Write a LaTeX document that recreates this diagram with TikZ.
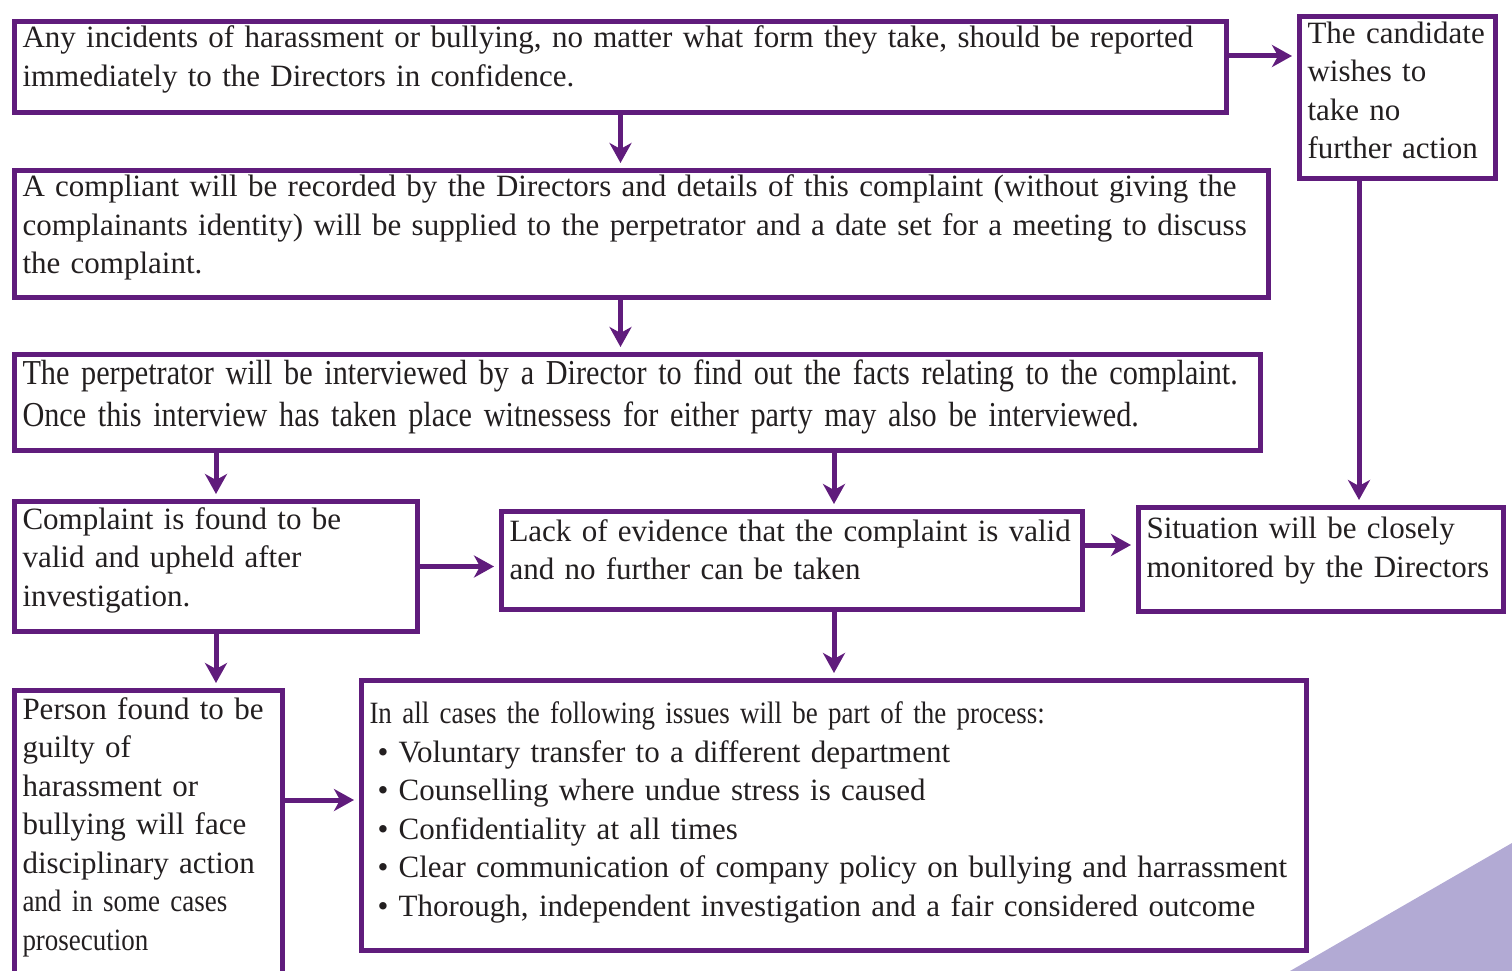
\documentclass[tikz,border=0pt]{standalone}
\usepackage{fontspec}
\setmainfont{Liberation Serif}
\newfontfamily\condfont[FakeStretch=0.87]{Liberation Serif}
\newfontfamily\tallfont[FakeStretch=0.864]{Liberation Serif}
\usetikzlibrary{positioning}
\usetikzlibrary{arrows.meta}
\definecolor{framepurple}{RGB}{96,28,124}
\definecolor{inktext}{RGB}{35,31,32}
\definecolor{lavender}{RGB}{178,170,212}
\tikzset{
    stepbox/.style = {rectangle, draw=framepurple, line width=5pt, anchor=north west, align=left,
                      inner xsep=8pt, inner ysep=3pt, text=inktext,
                      font=\fontsize{31}{38.5}\selectfont},
    flow/.style = {-{Stealth[length=20pt,width=22pt,inset=6pt]}, line width=5pt, draw=framepurple, shorten >=5pt},
}

\begin{document}
\begin{tikzpicture}[x=1pt,y=-1pt]
\clip (0,0) rectangle (1512,971);
\fill[lavender] (1290,971) -- (1512,843) -- (1512,971) -- cycle;
%
\node[stepbox, minimum width=1212pt, minimum height=91pt, text width=1196pt, text depth=60pt] at (12,19) (report)
  {Any incidents of harassment or bullying, no matter what form they take, should be reported\\
   immediately to the Directors in confidence.};
\node[stepbox, minimum width=196pt, minimum height=162pt, text width=180pt, text depth=130pt] at (1297,14) (candidate)
  {The candidate\\ wishes to\\ take no\\ further action};
\node[stepbox, minimum width=1254pt, minimum height=127pt, text width=1238pt, text depth=96pt] at (12,168) (record)
  {A compliant will be recorded by the Directors and details of this complaint (without giving the\\
   complainants identity) will be supplied to the perpetrator and a date set for a meeting to discuss\\
   the complaint.};
\node[stepbox, minimum width=1246pt, minimum height=96pt, text width=1230pt, text depth=60pt,
      font=\tallfont\fontsize{35}{41.5}\selectfont] at (12,352) (interview)
  {The perpetrator will be interviewed by a Director to find out the facts relating to the complaint.\\
   Once this interview has taken place witnessess for either party may also be interviewed.};
\node[stepbox, minimum width=403pt, minimum height=130pt, text width=387pt, text depth=96pt] at (12,499) (valid)
  {Complaint is found to be\\ valid and upheld after\\ investigation.};
\node[stepbox, minimum width=581pt, minimum height=98pt, text width=565pt, text depth=60pt] at (499,509) (lack)
  {Lack of evidence that the complaint is valid\\ and no further can be taken};
\node[stepbox, minimum width=365pt, minimum height=104pt, text width=349pt, text depth=63pt] at (1136,505) (monitor)
  {Situation will be closely\\ monitored by the Directors};
\node[stepbox, minimum width=268pt, minimum height=320pt, text width=252pt, text depth=284pt] at (12,688) (guilty)
  {Person found to be\\ guilty of\\ harassment or\\ bullying will face\\ disciplinary action\\
   {\condfont and in some cases}\\ {\condfont prosecution}};
\node[stepbox, minimum width=945pt, minimum height=270pt, text width=929pt, text depth=205pt] at (359,678) (issues)
  {{\condfont In all cases the following issues will be part of the process:}\\
   \hspace*{8pt}\textbullet\ Voluntary transfer to a different department\\
   \hspace*{8pt}\textbullet\ Counselling where undue stress is caused\\
   \hspace*{8pt}\textbullet\ Confidentiality at all times\\
   \hspace*{8pt}\textbullet\ Clear communication of company policy on bullying and harrassment\\
   \hspace*{8pt}\textbullet\ Thorough, independent investigation and a fair considered outcome};
%
\coordinate (asplit) at (0,56);
\coordinate (dsplit) at (834,0);
\coordinate (fsplit) at (0,545);
\coordinate (bsplit) at (1359,0);
\coordinate (hsplit) at (0,800);
%
\draw[flow] (report.east |- asplit) -- (candidate.west |- asplit);
\draw[flow] (report.south) -- (report.south |- record.north);
\draw[flow] (record.south -| report.south) -- (interview.north -| report.south);
\draw[flow] (interview.south -| valid.north) -- (valid.north);
\draw[flow] (interview.south -| dsplit) -- (lack.north -| dsplit);
\draw[flow] (valid.east) -- (valid.east -| lack.west);
\draw[flow] (lack.east |- fsplit) -- (monitor.west |- fsplit);
\draw[flow] (candidate.south -| bsplit) -- (monitor.north -| bsplit);
\draw[flow] (valid.south) -- (valid.south |- guilty.north);
\draw[flow] (lack.south -| dsplit) -- (issues.north -| dsplit);
\draw[flow] (guilty.east |- hsplit) -- (issues.west |- hsplit);

\end{tikzpicture}
\end{document}
